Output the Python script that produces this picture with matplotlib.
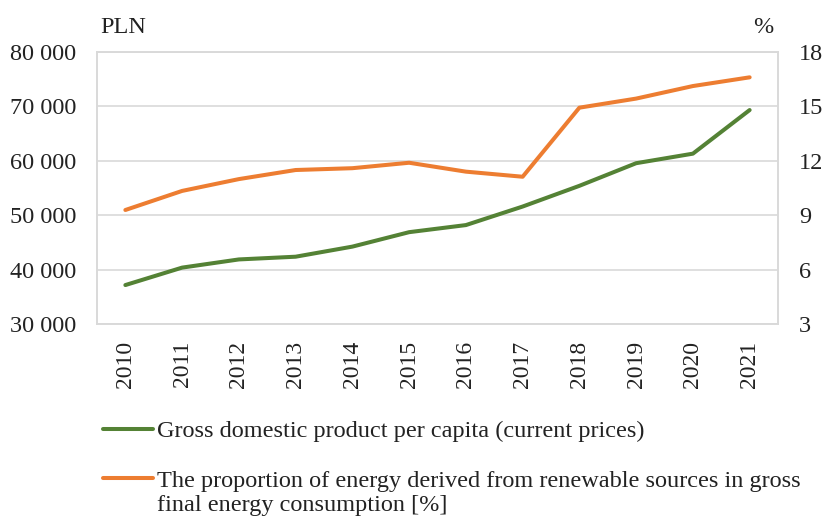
import matplotlib.pyplot as plt
from matplotlib.lines import Line2D

years = ["2010", "2011", "2012", "2013", "2014", "2015",
         "2016", "2017", "2018", "2019", "2020", "2021"]
gdp_per_capita = [37200, 40400, 41900, 42400, 44250, 46900,
                  48200, 51600, 55400, 59550, 61300, 69300]
renewable_share = [9.29, 10.34, 10.99, 11.49, 11.59, 11.89,
                   11.40, 11.12, 14.92, 15.42, 16.11, 16.59]

gdp_label = "Gross domestic product per capita (current prices)"
res_label = ("The proportion of energy derived from renewable sources in gross\n"
             "final energy consumption [%]")

green = "#548235"
orange = "#ED7D31"
grid_col = "#D9D9D9"
text_col = "#222222"

plt.rcParams["font.family"] = ["Liberation Serif", "DejaVu Serif"]

fig = plt.figure(figsize=(8.24, 5.17), dpi=100)
ax = fig.add_axes([0.1177, 0.3727, 0.8265, 0.5273])
ax2 = ax.twinx()

x = list(range(len(years)))
ax.plot(x, gdp_per_capita, color=green, lw=2.9, solid_capstyle="round", zorder=3)
ax2.plot(x, renewable_share, color=orange, lw=2.9, solid_capstyle="round", zorder=3)

ax.set_xlim(-0.5, len(years) - 0.5)
ax.set_ylim(30000, 80000)
ax.set_yticks(range(30000, 80001, 10000))
ax.set_yticklabels([f"{v // 1000} 000" for v in range(30000, 80001, 10000)])
ax2.set_ylim(3, 18)
ax2.set_yticks(range(3, 19, 3))

ax.set_xticks(x)
ax.set_xticklabels(years, rotation=90)

ax.grid(axis="y", color=grid_col, lw=1.2)
ax.set_axisbelow(True)
for a in (ax, ax2):
    for s in a.spines.values():
        s.set_color(grid_col)
        s.set_linewidth(1.2)
    a.tick_params(length=0, labelsize=17.5, colors=text_col)
ax.tick_params(axis="y", pad=15)
ax2.tick_params(axis="y", pad=15)
ax.tick_params(axis="x", pad=12, labelsize=17)

fig.text(0.1214, 0.936, "PLN", fontsize=17.5, color=text_col, va="baseline")
fig.text(0.914, 0.936, "%", fontsize=17.5, color=text_col, va="baseline")

# legend drawn by hand below the chart
fig.add_artist(Line2D([0.1246, 0.1853], [0.170, 0.170], color=green, lw=2.9,
                      solid_capstyle="round", transform=fig.transFigure))
fig.text(0.1905, 0.1547, gdp_label, fontsize=17.5, va="baseline", color=text_col)
fig.add_artist(Line2D([0.1246, 0.1853], [0.0754, 0.0754], color=orange, lw=2.9,
                      solid_capstyle="round", transform=fig.transFigure))
fig.text(0.1905, 0.011, res_label, fontsize=17.5, va="baseline", color=text_col,
         linespacing=1.2)

fig.savefig("out.png", dpi=100)
